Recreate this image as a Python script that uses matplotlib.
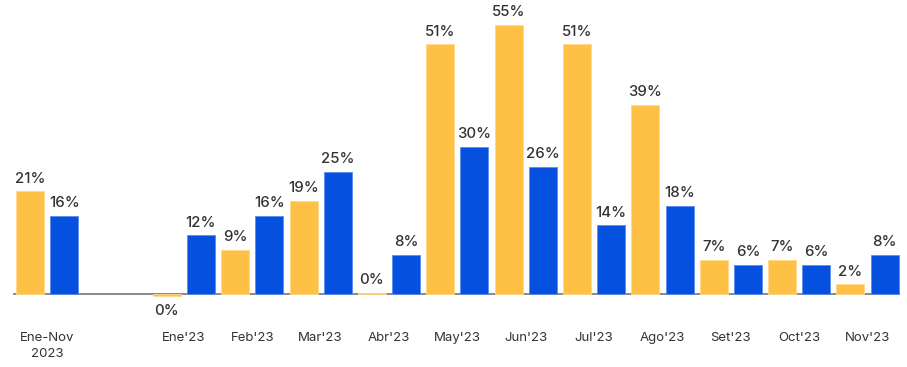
import matplotlib
matplotlib.use("Agg")
import matplotlib.pyplot as plt
import numpy as np

categories = ["Ene-Nov\n2023", "Ene'23", "Feb'23", "Mar'23", "Abr'23", "May'23",
              "Jun'23", "Jul'23", "Ago'23", "Set'23", "Oct'23", "Nov'23"]
yellow_vals = [21, -0.3, 9, 19, 0.3, 51, 55, 51, 38.6, 7, 7, 2]
blue_vals = [16, 12, 16, 25, 8, 30, 26, 14, 18, 6, 6, 8]

YELLOW = "#FFC145"
BLUE = "#0650E0"
TEXT = "#333333"

plt.rcParams['font.family'] = ['Inter', 'DejaVu Sans']

W, H = 907, 367
fig = plt.figure(figsize=(W / 100, H / 100), dpi=100)
# axes pixel box: left 13, right 900, top 0, bottom 299
ax = fig.add_axes([13 / W, 1 - 299 / H, (900 - 13) / W, 299 / H])

# slot positions: first group at 0, months start at slot 4
group_start = np.array([0] + [4 + 2 * i for i in range(len(categories) - 1)], dtype=float)
ypos = group_start
bpos = group_start + 1
bw = 0.82

ax.bar(ypos, yellow_vals, width=bw, color=YELLOW, edgecolor="#FFD88A", linewidth=0.6, clip_on=False)
ax.bar(bpos, blue_vals, width=bw, color=BLUE, edgecolor="#5B8CF0", linewidth=0.6, clip_on=False)

for xs, vals in ((ypos, yellow_vals), (bpos, blue_vals)):
    for x, v in zip(xs, vals):
        lab = f"{int(round(v))}%"
        if v < 0:
            ax.annotate(lab, (x, v), xytext=(0, -6), textcoords="offset points",
                        ha="center", va="top", fontsize=10.8, fontweight="medium", color=TEXT)
        else:
            ax.annotate(lab, (x, v), xytext=(0, 4), textcoords="offset points",
                        ha="center", va="bottom", fontsize=10.8, fontweight="medium", color=TEXT)

ax.set_xlim(-0.5, 25.45)
ax.set_ylim(-1, 60)
ax.axhline(0, color="#808080", linewidth=1.3, zorder=0)

for s in ax.spines.values():
    s.set_visible(False)
ax.set_yticks([])
ax.set_xticks(group_start + 0.5)
ax.set_xticklabels(categories, fontsize=9.5, color=TEXT, va="top", linespacing=1.45)
ax.tick_params(axis="x", length=0, pad=24)

fig.savefig("out.png", dpi=100)
